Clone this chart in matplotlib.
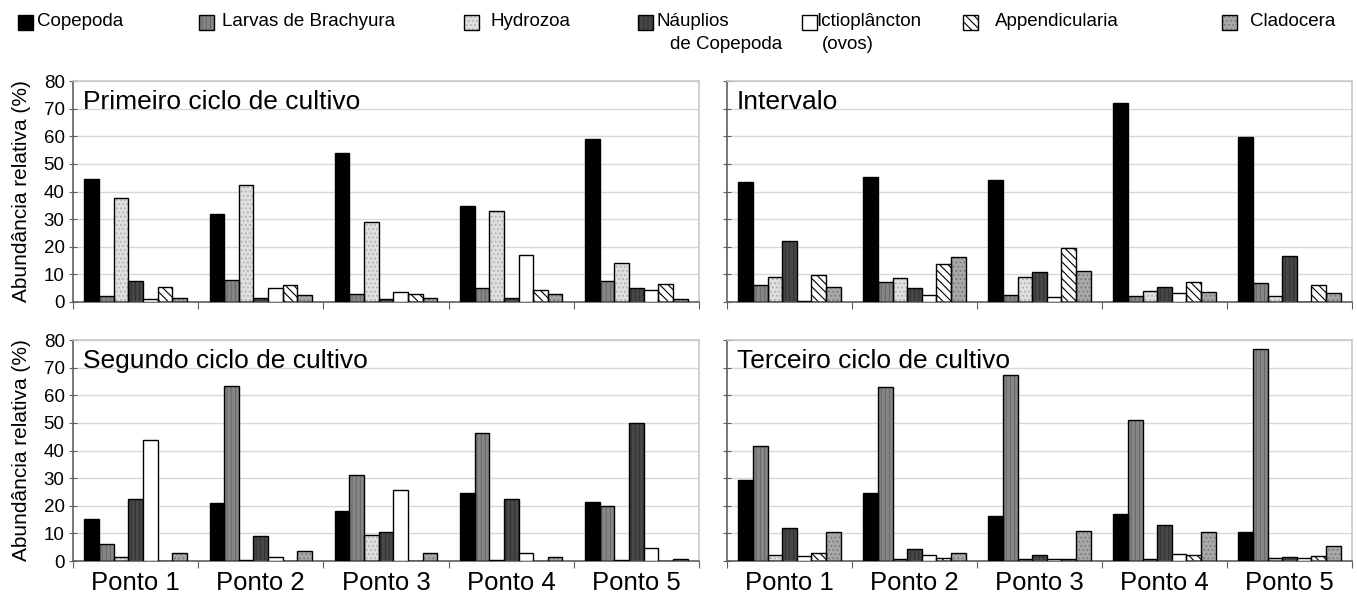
import numpy as np
import matplotlib.pyplot as plt
from matplotlib.patches import Rectangle

plt.rcParams['font.family'] = ['Liberation Sans', 'DejaVu Sans']
plt.rcParams['hatch.linewidth'] = 0.8

# data (relative abundance, %)
pontos = ["Ponto 1", "Ponto 2", "Ponto 3", "Ponto 4", "Ponto 5"]
taxa = ["Copepoda", "Larvas de Brachyura", "Hydrozoa", "Náuplios",
        "Ictioplâncton", "Appendicularia", "Cladocera"]
taxa_line2 = ["", "", "", "de Copepoda", "(ovos)", "", ""]

# rows = taxa, columns = pontos
primeiro = [
    [44.5, 32.0, 54.0, 34.8, 59.0],
    [2.0, 8.0, 3.0, 5.0, 7.6],
    [37.8, 42.3, 29.0, 33.0, 14.1],
    [7.5, 1.4, 1.0, 1.4, 5.2],
    [1.0, 5.0, 3.7, 17.1, 4.3],
    [5.3, 6.0, 2.8, 4.2, 6.6],
    [1.4, 2.4, 1.5, 2.8, 1.1],
]
intervalo = [
    [43.3, 45.1, 44.3, 72.1, 59.8],
    [6.3, 7.4, 2.6, 2.0, 6.7],
    [9.1, 8.7, 9.1, 3.9, 2.1],
    [22.2, 4.9, 11.0, 5.5, 16.6],
    [0.5, 2.6, 1.8, 3.1, 0.1],
    [9.7, 13.6, 19.7, 7.3, 6.3],
    [5.5, 16.4, 11.1, 3.7, 3.1],
]
segundo = [
    [15.3, 21.1, 18.2, 24.7, 21.5],
    [6.1, 63.4, 31.2, 46.4, 19.8],
    [1.3, 0.3, 9.4, 0.3, 0.3],
    [22.4, 8.9, 10.6, 22.4, 50.0],
    [43.9, 1.6, 25.7, 2.9, 4.7],
    [0.0, 0.0, 0.0, 0.0, 0.0],
    [3.0, 3.5, 3.0, 1.4, 0.7],
]
terceiro = [
    [29.3, 24.7, 16.4, 17.0, 10.4],
    [41.7, 63.1, 67.3, 51.1, 76.7],
    [2.2, 0.7, 0.7, 0.6, 1.2],
    [11.9, 4.4, 2.0, 13.1, 1.4],
    [1.7, 2.3, 0.6, 2.5, 1.2],
    [2.9, 1.1, 0.6, 2.3, 1.7],
    [10.4, 3.0, 10.8, 10.4, 5.6],
]

# (facecolor, hatch, hatch colour)
styles = [
    ("#000000", None, None),
    ("#868686", "||||", "#6a6a6a"),
    ("#dfdfdf", "....", "#b0b0b0"),
    ("#474747", "||||", "#333333"),
    ("#ffffff", None, None),
    ("#ffffff", "\\\\\\\\", "#000000"),
    ("#a8a8a8", "....", "#7a7a7a"),
]

W, H = 1357, 598
fig = plt.figure(figsize=(W / 100, H / 100), dpi=100)


def px_axes(x0, x1, ytop, ybot):
    return fig.add_axes([x0 / W, 1 - ybot / H, (x1 - x0) / W, (ybot - ytop) / H])


panels = [
    (primeiro, "Primeiro ciclo de cultivo", (73, 699, 81, 302), True, False),
    (intervalo, "Intervalo", (727, 1352, 81, 302), False, False),
    (segundo, "Segundo ciclo de cultivo", (73, 699, 340, 561), True, True),
    (terceiro, "Terceiro ciclo de cultivo", (727, 1352, 340, 561), False, True),
]

bw = 0.117
x = np.arange(len(pontos))
for data, title, box, ylab, xlab in panels:
    ax = px_axes(*box)
    for i, vals in enumerate(data):
        fc, hatch, hc = styles[i]
        xs = x + (i - 3) * bw
        if hatch:
            ax.bar(xs, vals, bw, color=fc, edgecolor=hc, hatch=hatch, linewidth=0, zorder=2)
            ax.bar(xs, vals, bw, facecolor="none", edgecolor="black", linewidth=1, zorder=3)
        else:
            ax.bar(xs, vals, bw, color=fc, edgecolor="black", linewidth=1, zorder=3)
    ax.set_xlim(-0.5, 4.5)
    ax.set_ylim(0, 80)
    ax.set_yticks(range(0, 81, 10))
    ax.yaxis.grid(True, color="#d8d8d8", linewidth=1, zorder=0)
    ax.set_axisbelow(True)
    ax.set_xticks(np.arange(-0.5, 5.0, 1.0))
    ax.set_xticklabels([])
    ax.set_xticks(x, minor=True)
    ax.tick_params(axis="x", which="minor", length=0, labelsize=18.5, pad=7)
    ax.tick_params(axis="x", which="major", direction="out", length=5, color="#606060")
    ax.tick_params(axis="y", direction="inout", length=6, color="#606060", labelsize=13.5, pad=3)
    if xlab:
        ax.set_xticklabels(pontos, minor=True)
    if ylab:
        ax.set_ylabel("Abundância relativa (%)", fontsize=15, labelpad=9)
    else:
        ax.set_yticklabels([])
    for s in ("left", "bottom"):
        ax.spines[s].set_color("#606060")
        ax.spines[s].set_linewidth(1.2)
    for s in ("top", "right"):
        ax.spines[s].set_color("#c8c8c8")
        ax.spines[s].set_linewidth(1.2)
    ax.text(0.016, 0.96, title, transform=ax.transAxes, fontsize=19, va="top", ha="left")

# legend row (pixel positions of swatch, label and second label line)
leg_x = [18, 199, 464, 638, 802, 963, 1222]
txt_x = [37, 222, 490, 656, 816, 995, 1250]
line2_x = [0, 0, 0, 670, 822, 0, 0]
for i, (name, (fc, hatch, hc)) in enumerate(zip(taxa, styles)):
    lx = leg_x[i]
    y0 = 1 - 30 / H
    if hatch:
        fig.add_artist(Rectangle((lx / W, y0), 15 / W, 15 / H, transform=fig.transFigure,
                                 facecolor=fc, edgecolor=hc, hatch=hatch, linewidth=0))
    fig.add_artist(Rectangle((lx / W, y0), 15 / W, 15 / H, transform=fig.transFigure,
                             facecolor=fc if not hatch else "none", edgecolor="black", linewidth=1))
    fig.text(txt_x[i] / W, 1 - 13 / H, name, fontsize=13.5, va="top", ha="left")
    if taxa_line2[i]:
        fig.text(line2_x[i] / W, 1 - 36 / H, taxa_line2[i], fontsize=13.5, va="top", ha="left")

fig.savefig("out.png", dpi=100)
